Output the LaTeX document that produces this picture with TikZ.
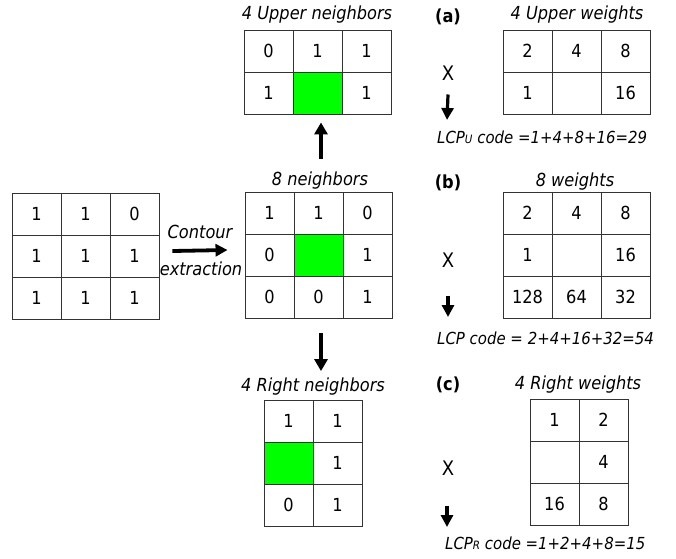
\documentclass[tikz,border=0pt]{standalone}
\usepackage{fontspec}
\setmainfont{DejaVu Sans}[FakeStretch=0.9]
\usetikzlibrary{arrows.meta,positioning}

\tikzset{
  cell/.style={rectangle, draw=black!80, line width=0.9pt, minimum width=49pt, minimum height=42pt, inner sep=0pt, font=\fontsize{18}{21}\selectfont},
  lbl/.style={font=\fontsize{18}{21}\selectfont\itshape, inner sep=1pt},
  tag/.style={font=\fontsize{18}{21}\selectfont\bfseries, inner sep=0pt},
  times/.style={font=\fontsize{20}{22}\selectfont, inner sep=0pt},
  code/.style={font=\fontsize{16.6}{19}\selectfont\itshape, anchor=west, inner sep=0pt},
  bigarrow/.style={line width=4.5pt, -{Triangle[width=13pt,length=12pt]}},
  midarrow/.style={line width=3.8pt, -{Triangle[width=12pt,length=12pt]}},
  smallarrow/.style={line width=3.2pt, -{Triangle[width=12pt,length=12pt]}},
}
\newcommand{\smallcap}[1]{{\fontsize{11.5}{12}\selectfont #1}}

\begin{document}
\begin{tikzpicture}[x=1pt,y=-1pt]
\useasboundingbox (0,0) rectangle (676,558);

% centre pixels
\node[cell, fill=green] (up-ctr) at (317.5,93) {};
\node[cell, fill=green] (eight-ctr) at (318.5,255) {};
\node[cell, fill=green] (right-ctr) at (288.5,463) {};

% input image
\foreach \row [count=\r] in {{1,1,0},{1,1,1},{1,1,1}}
  \foreach \v [count=\c] in \row
    \node[cell] (in-\r-\c) at ({12+49*(\c-0.5)},{193+42*(\r-0.5)}) {\v};

% neighbour grids
\foreach \row [count=\r] in {{0,1,1},{1,{},1}}
  \foreach \v [count=\c] in \row
    \node[cell] (up-\r-\c) at ({244+49*(\c-0.5)},{30+42*(\r-0.5)}) {\v};
\foreach \row [count=\r] in {{1,1,0},{0,{},1},{0,0,1}}
  \foreach \v [count=\c] in \row
    \node[cell] (eight-\r-\c) at ({245+49*(\c-0.5)},{192+42*(\r-0.5)}) {\v};
\foreach \row [count=\r] in {{1,1},{{},1},{0,1}}
  \foreach \v [count=\c] in \row
    \node[cell] (right-\r-\c) at ({264+49*(\c-0.5)},{400+42*(\r-0.5)}) {\v};

% weight grids
\foreach \row [count=\r] in {{2,4,8},{1,{},16}}
  \foreach \v [count=\c] in \row
    \node[cell] (wa-\r-\c) at ({503+49*(\c-0.5)},{30+42*(\r-0.5)}) {\v};
\foreach \row [count=\r] in {{2,4,8},{1,{},16},{128,64,32}}
  \foreach \v [count=\c] in \row
    \node[cell] (wb-\r-\c) at ({503+49*(\c-0.5)},{192+42*(\r-0.5)}) {\v};
\foreach \row [count=\r] in {{1,2},{{},4},{16,8}}
  \foreach \v [count=\c] in \row
    \node[cell] (wc-\r-\c) at ({530+49*(\c-0.5)},{399+42*(\r-0.5)}) {\v};

% titles
\node[lbl] (up-lbl) at (317,15) {4 Upper neighbors};
\node[lbl] (eight-lbl) at (320,181) {8 neighbors};
\node[lbl] (right-lbl) at (313,387) {4 Right neighbors};
\node[lbl] (wa-lbl) at (577,15) {4 Upper weights};
\node[lbl] (wb-lbl) at (575,182) {8 weights};
\node[lbl] (wc-lbl) at (578,385) {4 Right weights};
\node[lbl] (contour) at (200,232) {Contour};
\node[lbl] (extract) at (201,269) {extraction};

\node[tag] (tag-a) at (448,17) {(a)};
\node[tag] (tag-b) at (448,183) {(b)};
\node[tag] (tag-c) at (448,385) {(c)};

\node[times] (xa) at (448,73) {X};
\node[times] (xb) at (448,260) {X};
\node[times] (xc) at (448,468) {X};

\node[code] (code-a) at (437,137) {LCP\smallcap{U} code =1+4+8+16=29};
\node[code] (code-b) at (437,338) {LCP code = 2+4+16+32=54};
\node[code] (code-c) at (445,543) {LCP\smallcap{R} code =1+2+4+8=15};

% arrows
\path[midarrow] ([xshift=13pt, yshift=5pt]in-2-3.east) edge ([xshift=-17pt, yshift=5pt]eight-2-1.west);
\path[bigarrow] ([xshift=2.5pt, yshift=33pt]eight-1-2.north) edge ([xshift=3.5pt, yshift=-8pt]up-2-2.south);
\path[bigarrow] ([xshift=2.5pt, yshift=-15pt]eight-3-2.south) edge ([xshift=8pt, yshift=6pt]right-lbl.north);

\path[smallarrow] ([yshift=-14pt]xa.south) edge ([xshift=10pt, yshift=17pt]code-a.west);
\path[smallarrow] ([yshift=-28pt]xb.south) edge ([xshift=11pt, yshift=21pt]code-b.west);
\path[smallarrow] ([xshift=-1pt, yshift=-30pt]xc.south) edge ([xshift=2pt, yshift=16pt]code-c.west);
\end{tikzpicture}
\end{document}
